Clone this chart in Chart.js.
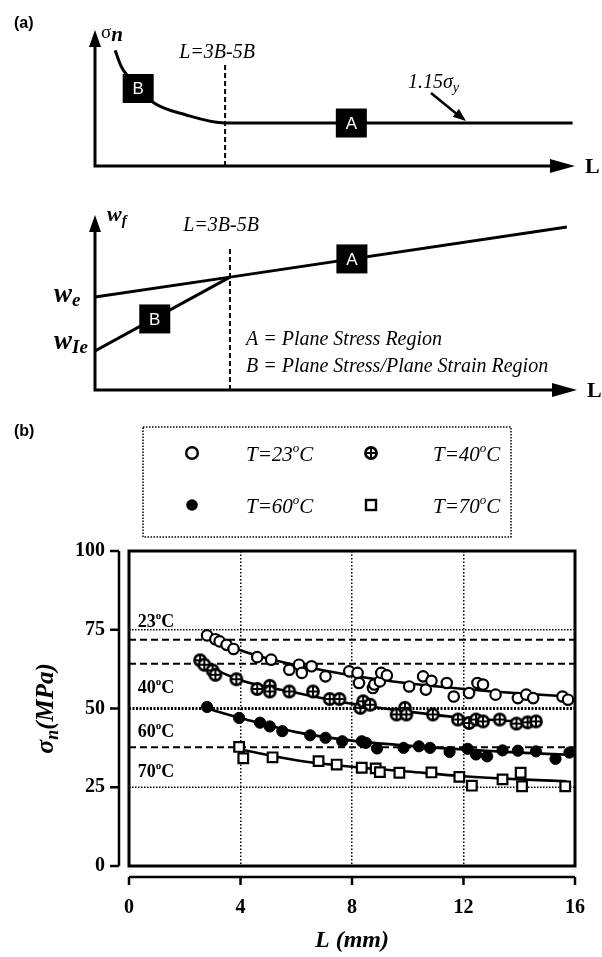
<!DOCTYPE html>
<html>
<head>
<meta charset="utf-8">
<title>Net-section stress vs ligament length</title>
<script src="https://cdn.jsdelivr.net/npm/chart.js@4.4.1/dist/chart.umd.min.js"></script>
<style>
  html, body { margin: 0; padding: 0; background: #fff; }
  #page { position: relative; width: 602px; height: 957px; overflow: hidden; }
  canvas { position: absolute; left: 0; }
</style>
</head>
<body>
<div id="page">
  <canvas id="sigmaSchem" width="602" height="195" style="top:0"></canvas>
  <canvas id="wfSchem" width="602" height="210" style="top:195px"></canvas>
  <canvas id="mainChart" width="602" height="557" style="top:400px"></canvas>
</div>
<script>
// ---- (a) schematic curves (arbitrary units, 0..10) ----
const sigmaL = [0.42, 0.55, 0.9, 1.2, 1.9, 2.71, 9.95];
const sigmaN = [8.5, 7.3, 5.8, 4.7, 3.75, 3.16, 3.16];
const sigmaTransL = 2.71;

const wfLA = [0, 2.8, 9.79];
const wfA = [5.31, 6.45, 9.31];
const wfLB = [0, 2.8];
const wfB = [2.23, 6.45];
const wfTransL = 2.8;

// ---- (b) sigma_n (MPa) vs L (mm) ----
const L23 = [2.8, 3.1, 3.25, 3.5, 3.75, 4.6, 5.1, 5.75, 6.1, 6.2, 6.55, 7.05, 7.9, 8.2, 8.25, 8.75, 8.8, 9.0, 9.05, 9.25,
             10.05, 10.55, 10.65, 10.85, 11.4, 11.65, 12.2, 12.5, 12.7, 13.15, 13.95, 14.25, 14.5, 15.55, 15.75];
const s23 = [73.2, 72.0, 71.3, 70.2, 68.9, 66.3, 65.5, 62.3, 63.9, 61.3, 63.4, 60.2, 61.8, 61.3, 58.1, 56.5, 57.6, 58.6, 61.3, 60.5,
             57.0, 60.2, 56.0, 58.8, 58.1, 53.8, 54.9, 58.1, 57.6, 54.4, 53.3, 54.4, 53.3, 53.8, 52.8];
const L40 = [2.55, 2.7, 3.0, 3.1, 3.85, 4.6, 5.05, 5.05, 5.75, 6.6, 7.2, 7.55, 8.3, 8.4, 8.65, 9.6, 9.9, 9.95, 10.9,
             11.8, 12.2, 12.45, 12.7, 13.3, 13.9, 14.3, 14.6];
const s40 = [65.3, 63.9, 62.1, 60.7, 59.3, 56.2, 57.2, 55.4, 55.4, 55.4, 53.0, 53.0, 50.2, 52.3, 51.2, 48.1, 50.2, 48.1, 48.1,
             46.5, 45.4, 46.5, 45.9, 46.5, 45.2, 45.6, 45.9];
const L60 = [2.8, 3.95, 4.7, 5.05, 5.5, 6.5, 7.05, 7.65, 8.35, 8.5, 8.9, 9.85, 10.4, 10.8, 11.5, 12.15, 12.45, 12.85,
             13.4, 13.95, 14.6, 15.3, 15.8];
const s60 = [50.5, 47.0, 45.5, 44.3, 42.8, 41.5, 40.7, 39.6, 39.6, 39.1, 37.3, 37.5, 38.0, 37.5, 36.2, 37.2, 35.4, 34.8,
             36.7, 36.6, 36.4, 34.0, 36.0];
const L70 = [3.95, 4.1, 5.15, 6.8, 7.45, 8.35, 8.85, 9.0, 9.7, 10.85, 11.85, 12.3, 13.4, 14.05, 14.1, 15.65];
const s70 = [37.8, 34.2, 34.5, 33.3, 32.2, 31.2, 31.0, 29.8, 29.6, 29.7, 28.3, 25.5, 27.5, 29.6, 25.3, 25.3];

// fitted curves
const fitL23 = [2.8, 4, 5, 6, 8, 10, 12, 14, 15.8];
const fit23 = [73, 68.5, 65.8, 63.8, 60.5, 58, 56.2, 54.8, 53.8];
const fitL40 = [2.55, 4, 6, 8, 10, 12, 14.6];
const fit40 = [64.5, 59, 55, 51.5, 49, 47, 45.6];
const fitL60 = [2.8, 4, 6, 8, 10, 12, 14, 15.8];
const fit60 = [50, 47, 42.5, 39.8, 38.2, 37, 36, 35.3];
const fitL70 = [4, 6, 8, 10, 12, 14, 15.7];
const fit70 = [37, 33.6, 31.5, 30, 28.5, 27.5, 26.9];

// horizontal reference levels (MPa)
const refLevels = [75, 71.8, 64.2, 50, 37.7, 25];
const tempNames = ['23', '40', '60', '70'];
const tempLabelY = [75.9, 55.0, 40.8, 28.4];

const xTicks = [0, 4, 8, 12, 16];
const yTicks = [0, 25, 50, 75, 100];

const serif = '"Liberation Serif", "Times New Roman", serif';
const sans = '"Liberation Sans", Arial, sans-serif';

const pts = (xs, ys) => xs.map((x, i) => ({ x: x, y: ys[i] }));

function drawRuns(ctx, x, y, runs) {
  runs.forEach(r => {
    ctx.font = r.font;
    ctx.fillText(r.t, x, y + (r.dy || 0));
    x += ctx.measureText(r.t).width;
  });
  return x;
}
function runsWidth(ctx, runs) {
  let w = 0;
  runs.forEach(r => { ctx.font = r.font; w += ctx.measureText(r.t).width; });
  return w;
}
function arrowHead(ctx, tx, ty, angle, len, half) {
  ctx.save();
  ctx.translate(tx, ty);
  ctx.rotate(angle);
  ctx.beginPath();
  ctx.moveTo(0, 0); ctx.lineTo(-len, -half); ctx.lineTo(-len, half);
  ctx.closePath(); ctx.fill();
  ctx.restore();
}
function drawArrowAxes(chart) {
  const { ctx, chartArea: a } = chart;
  ctx.save();
  ctx.strokeStyle = ctx.fillStyle = '#000';
  ctx.lineWidth = 3;
  ctx.beginPath();
  ctx.moveTo(a.left, a.top + 14);
  ctx.lineTo(a.left, a.bottom);
  ctx.lineTo(a.right - 20, a.bottom);
  ctx.stroke();
  arrowHead(ctx, a.left, a.top, -Math.PI / 2, 17, 6);
  arrowHead(ctx, a.right, a.bottom, 0, 25, 7);
  ctx.font = 'bold 22px ' + serif;
  ctx.textBaseline = 'middle';
  ctx.fillText('L', a.right + 10, a.bottom + 1);
  ctx.restore();
}
function regionBox(chart, b) {
  const { ctx, scales: { x, y } } = chart;
  const cx = x.getPixelForValue(b.x), cy = y.getPixelForValue(b.y);
  ctx.save();
  ctx.fillStyle = '#000';
  ctx.fillRect(cx - 15.5, cy - 14.5, 31, 29);
  ctx.fillStyle = '#fff';
  ctx.font = '17px ' + sans;
  ctx.textAlign = 'center';
  ctx.textBaseline = 'middle';
  ctx.fillText(b.label, cx, cy + 1);
  ctx.restore();
}

const sigmaBoxes = [{ label: 'B', x: 0.9, y: 5.7 }, { label: 'A', x: 5.34, y: 3.16 }];
const wfBoxes = [{ label: 'A', x: 5.33, y: 7.49 }, { label: 'B', x: 1.24, y: 4.06 }];

const sigmaDecor = {
  id: 'sigmaDecor',
  afterDraw(chart) {
    const { ctx } = chart;
    drawArrowAxes(chart);
    sigmaBoxes.forEach(b => regionBox(chart, b));
    ctx.save();
    ctx.fillStyle = ctx.strokeStyle = '#000';
    ctx.textBaseline = 'alphabetic';
    ctx.font = 'bold 16px ' + sans;
    ctx.fillText('(a)', 14, 28);
    drawRuns(ctx, 101, 38, [{ t: 'σ', font: '19px ' + serif }, { t: 'n', font: 'bold italic 21px ' + serif, dy: 3 }]);
    ctx.font = 'italic 20px ' + serif;
    ctx.textAlign = 'center';
    ctx.fillText('L=3B-5B', 217, 58);
    ctx.textAlign = 'left';
    drawRuns(ctx, 408, 88, [{ t: '1.15σ', font: 'italic 20px ' + serif }, { t: 'y', font: 'italic 14px ' + serif, dy: 4 }]);
    ctx.lineWidth = 2.5;
    ctx.beginPath(); ctx.moveTo(431, 93); ctx.lineTo(458, 115); ctx.stroke();
    arrowHead(ctx, 466, 121, Math.atan2(27, 34), 13, 5);
    ctx.restore();
  }
};

const wfDecor = {
  id: 'wfDecor',
  afterDraw(chart) {
    const { ctx } = chart;
    drawArrowAxes(chart);
    wfBoxes.forEach(b => regionBox(chart, b));
    ctx.save();
    ctx.fillStyle = '#000';
    ctx.textBaseline = 'alphabetic';
    const w = 'bold italic 22px ' + serif, sub = 'bold italic 15px ' + serif;
    drawRuns(ctx, 107, 26, [{ t: 'w', font: w }, { t: 'f', font: sub, dy: 4 }]);
    const wBig = 'bold italic 27px ' + serif, subBig = 'bold italic 19px ' + serif;
    drawRuns(ctx, 54, 107, [{ t: 'w', font: wBig }, { t: 'e', font: subBig, dy: 4 }]);
    drawRuns(ctx, 54, 154, [{ t: 'w', font: wBig }, { t: 'Ie', font: subBig, dy: 4 }]);
    ctx.font = 'italic 20px ' + serif;
    ctx.textAlign = 'center';
    ctx.fillText('L=3B-5B', 221, 36);
    ctx.textAlign = 'left';
    ctx.fillText('A = Plane Stress Region', 246, 150);
    ctx.fillText('B = Plane Stress/Plane Strain Region', 246, 177);
    ctx.restore();
  }
};

const baseOpts = (pad) => ({
  responsive: false, animation: false, devicePixelRatio: 1,
  layout: { padding: pad },
  plugins: { legend: { display: false }, tooltip: { enabled: false } },
  scales: {
    x: { type: 'linear', min: 0, max: 10, display: false },
    y: { type: 'linear', min: 0, max: 10, display: false }
  }
});
const solid = (data) => ({ data: data, showLine: true, borderColor: '#000', borderWidth: 3, pointRadius: 0 });
const dashedV = (xv, top) => ({ data: [{ x: xv, y: 0 }, { x: xv, y: top }], showLine: true, borderColor: '#000',
  borderWidth: 2, borderDash: [5, 3], pointRadius: 0 });

new Chart(document.getElementById('sigmaSchem'), {
  type: 'scatter',
  data: { datasets: [
    Object.assign(solid(pts(sigmaL, sigmaN)), { cubicInterpolationMode: 'monotone' }),
    dashedV(sigmaTransL, 7.57)
  ] },
  options: baseOpts({ left: 95, right: 27, top: 30, bottom: 29 }),
  plugins: [sigmaDecor]
});

new Chart(document.getElementById('wfSchem'), {
  type: 'scatter',
  data: { datasets: [
    solid(pts(wfLA, wfA)),
    solid(pts(wfLB, wfB)),
    dashedV(wfTransL, 8.17)
  ] },
  options: baseOpts({ left: 95, right: 25, top: 20, bottom: 15 }),
  plugins: [wfDecor]
});

// crossed-circle marker
const crossCircle = document.createElement('canvas');
crossCircle.width = 16; crossCircle.height = 16;
(function () {
  const c = crossCircle.getContext('2d');
  c.lineWidth = 2.6; c.strokeStyle = '#000'; c.fillStyle = '#fff';
  c.beginPath(); c.arc(8, 8, 5.6, 0, Math.PI * 2); c.fill(); c.stroke();
  c.lineWidth = 2;
  c.beginPath(); c.moveTo(2, 8); c.lineTo(14, 8); c.moveTo(8, 2); c.lineTo(8, 14); c.stroke();
})();

const refStyles = [
  { dash: [1.5, 1.5], w: 1.5 }, { dash: [7, 4], w: 2 }, { dash: [7, 4], w: 2 },
  { dash: [2, 1.5], w: 3 }, { dash: [7, 4], w: 2 }, { dash: [1.5, 1.5], w: 1.5 }
];

const refSets = refLevels.map((v, i) => ({
  data: [{ x: xTicks[0], y: v }, { x: xTicks[xTicks.length - 1], y: v }], showLine: true, pointRadius: 0,
  borderColor: '#000', borderWidth: refStyles[i].w, borderDash: refStyles[i].dash, order: 3
}));
const fitSet = (xs, ys) => ({ data: pts(xs, ys), showLine: true, pointRadius: 0, borderColor: '#000',
  borderWidth: 2.6, cubicInterpolationMode: 'monotone', order: 2 });
const markSet = (xs, ys, style) => Object.assign({ data: pts(xs, ys), showLine: false, order: 1 }, style);

const legendItems = [
  { name: '23', sym: 'open' }, { name: '40', sym: 'cross' },
  { name: '60', sym: 'filled' }, { name: '70', sym: 'square' }
];

function legendSymbol(ctx, sym, cx, cy) {
  ctx.save();
  ctx.lineWidth = 2.4; ctx.strokeStyle = '#000'; ctx.fillStyle = '#000';
  if (sym === 'cross') {
    ctx.drawImage(crossCircle, cx - 8, cy - 8);
  } else if (sym === 'square') {
    ctx.fillStyle = '#fff';
    ctx.fillRect(cx - 5, cy - 5, 10, 10); ctx.strokeRect(cx - 5, cy - 5, 10, 10);
  } else {
    ctx.beginPath(); ctx.arc(cx, cy, 5.8, 0, Math.PI * 2);
    if (sym === 'filled') ctx.fill(); else ctx.stroke();
  }
  ctx.restore();
}

const mainDecor = {
  id: 'mainDecor',
  afterDraw(chart) {
    const { ctx, chartArea: a, scales: { x, y } } = chart;
    ctx.save();
    ctx.strokeStyle = ctx.fillStyle = '#000';
    ctx.lineWidth = 3;
    ctx.strokeRect(a.left, a.top, a.right - a.left, a.bottom - a.top);
    // offset axes
    const yAx = a.left - 10, xAx = a.bottom + 11;
    ctx.lineWidth = 2.5;
    ctx.beginPath();
    ctx.moveTo(yAx, a.top); ctx.lineTo(yAx, a.bottom);
    yTicks.forEach(v => { const p = y.getPixelForValue(v); ctx.moveTo(yAx - 9, p); ctx.lineTo(yAx, p); });
    ctx.moveTo(a.left, xAx); ctx.lineTo(a.right, xAx);
    xTicks.forEach(v => { const p = x.getPixelForValue(v); ctx.moveTo(p, xAx); ctx.lineTo(p, xAx + 8); });
    ctx.stroke();
    // temperature labels inside plot
    ctx.textBaseline = 'alphabetic';
    tempNames.forEach((t, i) => {
      drawRuns(ctx, x.getPixelForValue(0.31), y.getPixelForValue(tempLabelY[i]), [
        { t: t, font: 'bold 18px ' + serif }, { t: 'o', font: 'bold 11px ' + serif, dy: -8 }, { t: 'C', font: 'bold 18px ' + serif }
      ]);
    });
    // y title
    ctx.save();
    ctx.translate(45, (a.top + a.bottom) / 2);
    ctx.rotate(-Math.PI / 2);
    const yt = [{ t: 'σ', font: 'bold italic 26px ' + serif }, { t: 'n', font: 'bold italic 18px ' + serif, dy: 5 },
                { t: '(MPa)', font: 'bold italic 25px ' + serif }];
    drawRuns(ctx, -runsWidth(ctx, yt) / 2, 8, yt);
    ctx.restore();
    // panel label
    ctx.font = 'bold 16px ' + sans;
    ctx.fillText('(b)', 14, 36);
    // legend box
    ctx.lineWidth = 1.5;
    ctx.setLineDash([1.5, 1.5]);
    ctx.strokeRect(143, 27, 368, 110);
    ctx.setLineDash([]);
    legendItems.forEach((it, i) => {
      const col = i % 2, row = Math.floor(i / 2);
      const sx = col ? 371 : 192, ty = row ? 105 : 53;
      legendSymbol(ctx, it.sym, sx, ty);
      ctx.fillStyle = '#000';
      drawRuns(ctx, col ? 433 : 246, ty + 8, [
        { t: 'T=' + it.name, font: 'italic 21px ' + serif }, { t: 'o', font: 'italic 13px ' + serif, dy: -9 },
        { t: 'C', font: 'italic 21px ' + serif }
      ]);
    });
    ctx.restore();
  }
};

const tickFont = { family: serif, size: 20, weight: 'bold' };

new Chart(document.getElementById('mainChart'), {
  type: 'scatter',
  data: { datasets: [
    markSet(L23, s23, { pointStyle: 'circle', pointRadius: 5.2, pointBackgroundColor: '#fff', pointBorderColor: '#000', pointBorderWidth: 2.2 }),
    markSet(L40, s40, { pointStyle: crossCircle }),
    markSet(L60, s60, { pointStyle: 'circle', pointRadius: 5.6, pointBackgroundColor: '#000', pointBorderColor: '#000', pointBorderWidth: 1 }),
    markSet(L70, s70, { pointStyle: 'rect', pointRadius: 6.8, pointBackgroundColor: '#fff', pointBorderColor: '#000', pointBorderWidth: 2.2 }),
    fitSet(fitL23, fit23), fitSet(fitL40, fit40), fitSet(fitL60, fit60), fitSet(fitL70, fit70)
  ].concat(refSets) },
  options: {
    responsive: false, animation: false, devicePixelRatio: 1,
    layout: { padding: { left: 0, right: 27, top: 151, bottom: 0 } },
    plugins: { legend: { display: false }, tooltip: { enabled: false } },
    scales: {
      x: {
        type: 'linear', min: 0, max: 16,
        afterBuildTicks: s => { s.ticks = xTicks.map(v => ({ value: v })); },
        afterFit: s => { s.height = 91; },
        grid: { display: true, drawOnChartArea: true, drawTicks: true, tickLength: 20, tickColor: 'transparent', lineWidth: 1.5,
                color: c => (c.tick && [4, 8, 12].includes(c.tick.value)) ? '#000' : 'transparent' },
        border: { display: false, dash: [1.5, 2] },
        ticks: { padding: 10, color: '#000', font: tickFont, maxRotation: 0 },
        title: { display: true, text: 'L (mm)', color: '#000', font: { family: serif, size: 24, weight: 'bold', style: 'italic' },
                 padding: { top: 0, bottom: 2 } }
      },
      y: {
        type: 'linear', min: 0, max: 100,
        afterBuildTicks: s => { s.ticks = yTicks.map(v => ({ value: v })); },
        afterFit: s => { s.width = 129; },
        grid: { display: false, drawTicks: true, tickLength: 18 },
        border: { display: false },
        ticks: { padding: 6, color: '#000', font: tickFont }
      }
    }
  },
  plugins: [mainDecor]
});
</script>
</body>
</html>
